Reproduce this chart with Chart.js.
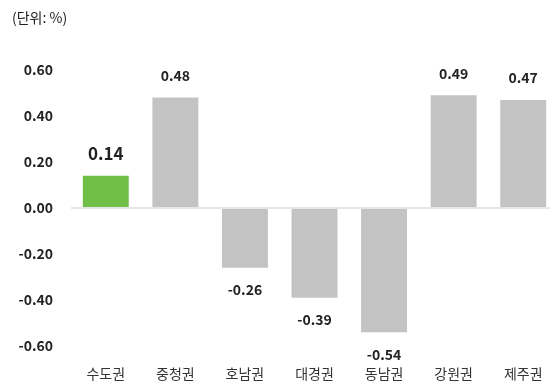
<!DOCTYPE html>
<html>
<head>
<meta charset="utf-8">
<script src="https://cdn.jsdelivr.net/npm/chart.js@4"></script>
<style>
  html, body { margin: 0; padding: 0; background: #fff; overflow: hidden; }
  #wrap { position: relative; width: 558px; height: 382px; }
  #unit { position: absolute; left: 12px; top: 7px; font: 14px "Noto Sans CJK KR", sans-serif; color: #222; }
</style>
</head>
<body>
<div id="wrap">
  <div id="unit">(단위: %)</div>
  <canvas id="chart" width="558" height="382"></canvas>
</div>
<script>
const regions = ["수도권", "중청권", "호남권", "대경권", "동남권", "강원권", "제주권"];
const changes = [0.14, 0.48, -0.26, -0.39, -0.54, 0.49, 0.47];
const barColors = ["#72bf48", "#c3c3c3", "#c3c3c3", "#c3c3c3", "#c3c3c3", "#c3c3c3", "#c3c3c3"];
const yTicks = [-0.6, -0.4, -0.2, 0, 0.2, 0.4, 0.6];

const fontFamily = '"Noto Sans CJK KR", "Noto Sans", sans-serif';

// value labels above / below each bar
const valueLabels = {
  id: "valueLabels",
  afterDatasetsDraw(chart) {
    const ctx = chart.ctx;
    const meta = chart.getDatasetMeta(0);
    ctx.save();
    ctx.textAlign = "center";
    ctx.textBaseline = "middle";
    ctx.fillStyle = "#222";
    meta.data.forEach((bar, i) => {
      const v = changes[i];
      const size = i === 0 ? 17 : 14;
      ctx.font = "bold " + size + "px " + fontFamily;
      const y = v >= 0 ? bar.y - 22 : bar.y + 22;
      ctx.fillText(v.toFixed(2), bar.x, y);
    });
    ctx.restore();
  }
};

new Chart(document.getElementById("chart").getContext("2d"), {
  type: "bar",
  data: {
    labels: regions,
    datasets: [{
      data: changes,
      backgroundColor: barColors,
      barPercentage: 0.66,
      categoryPercentage: 1.0,
    }],
  },
  options: {
    responsive: false,
    animation: false,
    layout: { padding: { top: 70, left: 0, right: 0, bottom: 0 } },
    plugins: {
      legend: { display: false },
      tooltip: { enabled: false },
    },
    scales: {
      x: {
        grid: { display: false },
        border: { display: false },
        ticks: { color: "#333", font: { family: fontFamily, size: 14 }, padding: 11 },
        afterFit(scale) { scale.height = 36; },
      },
      y: {
        min: -0.6,
        max: 0.6,
        afterBuildTicks(scale) { scale.ticks = yTicks.map(v => ({ value: v })); },
        grid: {
          drawTicks: false,
          color: c => (c.tick && c.tick.value === 0 ? "#e6e6e6" : "rgba(0,0,0,0)"),
          lineWidth: 2,
        },
        border: { display: false },
        ticks: {
          color: "#222",
          padding: 18,
          font: { family: fontFamily, size: 14, weight: "bold" },
          callback: v => Number(v).toFixed(2),
        },
        afterFit(scale) { scale.width = 71; },
      },
    },
  },
  plugins: [valueLabels],
});
</script>
</body>
</html>
